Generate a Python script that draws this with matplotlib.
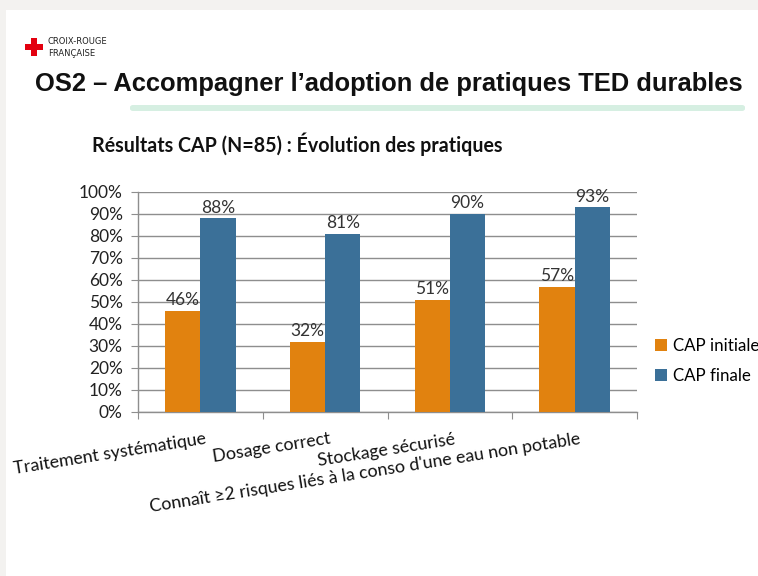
import matplotlib
matplotlib.use("Agg")
import matplotlib.pyplot as plt
from matplotlib.patches import Rectangle, FancyBboxPatch
import numpy as np

# Data
categories = ["Traitement systématique", "Dosage correct", "Stockage sécurisé",
              "Connaît ≥2 risques liés à la conso d'une eau non potable"]
cap_initiale = [46, 32, 51, 57]
cap_finale = [88, 81, 90, 93]
series_names = ["CAP initiale", "CAP finale"]
yticks = [0, 10, 20, 30, 40, 50, 60, 70, 80, 90, 100]

ORANGE = "#E1820F"
BLUE = "#3B7098"
GRID = "#8E8E8E"
BODY_FONT = ["Lato", "DejaVu Sans"]

W, H = 758, 576
fig = plt.figure(figsize=(W / 100, H / 100), dpi=100)
fig.patch.set_facecolor("#F3F2F0")

# white slide area (behind everything)
fig.patches.append(Rectangle((6 / W, 0), 1, 1 - 10 / H, transform=fig.transFigure,
                             facecolor="white", edgecolor="none", zorder=-10))

# logo: red cross + name
cx, cy = 34 / W, 1 - 47 / H
fig.patches.append(Rectangle((cx - 9 / W, cy - 3 / H), 18 / W, 6 / H, transform=fig.transFigure,
                             facecolor="#E3000F", edgecolor="none"))
fig.patches.append(Rectangle((cx - 3 / W, cy - 9 / H), 6 / W, 18 / H, transform=fig.transFigure,
                             facecolor="#E3000F", edgecolor="none"))
fig.text(48 / W, 1 - 42 / H, "CROIX-ROUGE", fontsize=6, color="#222222",
         family="Liberation Sans Narrow", va="center", ha="left")
fig.text(48 / W, 1 - 54 / H, "FRANÇAISE", fontsize=6, color="#222222",
         family="Liberation Sans Narrow", va="center", ha="left")

# main title and green underline
fig.text(35 / W, 1 - 84 / H, "OS2 – Accompagner l’adoption de pratiques TED durables",
         fontsize=18.4, fontweight="bold", family="Liberation Sans", color="#111111",
         va="center", ha="left")
fig.patches.append(FancyBboxPatch((130 / W, 1 - 111 / H), 615 / W, 6 / H,
                                  boxstyle="round,pad=0,rounding_size=0.004",
                                  transform=fig.transFigure, facecolor="#D6EFE2",
                                  edgecolor="none"))

# chart subtitle
fig.text(92 / W, 1 - 144 / H, "Résultats CAP (N=85) : Évolution des pratiques",
         fontsize=14.1, fontweight="bold", family=BODY_FONT, color="#111111",
         va="center", ha="left")

ax = fig.add_axes([138 / W, 1 - 412 / H, 499 / W, 220 / H])
ax.set_facecolor("white")
x = np.arange(len(categories))
bw = 0.283
b1 = ax.bar(x - bw / 2, cap_initiale, bw, color=ORANGE, label=series_names[0], zorder=3)
b2 = ax.bar(x + bw / 2, cap_finale, bw, color=BLUE, label=series_names[1], zorder=3)

for bars, vals in ((b1, cap_initiale), (b2, cap_finale)):
    for r, v in zip(bars, vals):
        ax.annotate(f"{v}%", (r.get_x() + r.get_width() / 2, v), xytext=(0, 2),
                    textcoords="offset points", ha="center", va="bottom",
                    fontsize=12.5, family=BODY_FONT, color="#333333", zorder=4)

ax.set_xlim(-0.5, len(categories) - 0.5)
ax.set_ylim(0, 100)
ax.set_yticks(yticks)
ax.set_yticklabels([f"{v}%" for v in yticks], fontsize=12.5, family=BODY_FONT, color="#222222")
ax.yaxis.grid(True, color=GRID, linewidth=1, zorder=0)
ax.tick_params(axis="y", length=5, color=GRID, pad=6)

ax.set_xticks(np.arange(len(categories) + 1) - 0.5)
ax.set_xticklabels([])
ax.tick_params(axis="x", length=5, color=GRID)

for s in ("top", "right"):
    ax.spines[s].set_visible(False)
for s in ("left", "bottom"):
    ax.spines[s].set_color(GRID)
    ax.spines[s].set_linewidth(1)

# rotated category labels
for i, lab in enumerate(categories):
    ax.annotate(lab, (i, 0), xycoords=("data", "axes fraction"), xytext=(4, -19),
                textcoords="offset pixels", ha="right", va="top", rotation=9,
                rotation_mode="anchor", fontsize=12.8, family=BODY_FONT, color="#111111")

fig.legend(handles=[b1, b2], labels=series_names, loc="center left",
           bbox_to_anchor=(648 / W, 1 - 361 / H), frameon=False,
           prop={"family": BODY_FONT, "size": 12.2}, handlelength=0.7, handleheight=0.7,
           handletextpad=0.35, labelspacing=0.8, borderaxespad=0)

fig.savefig("out.png", dpi=100)
